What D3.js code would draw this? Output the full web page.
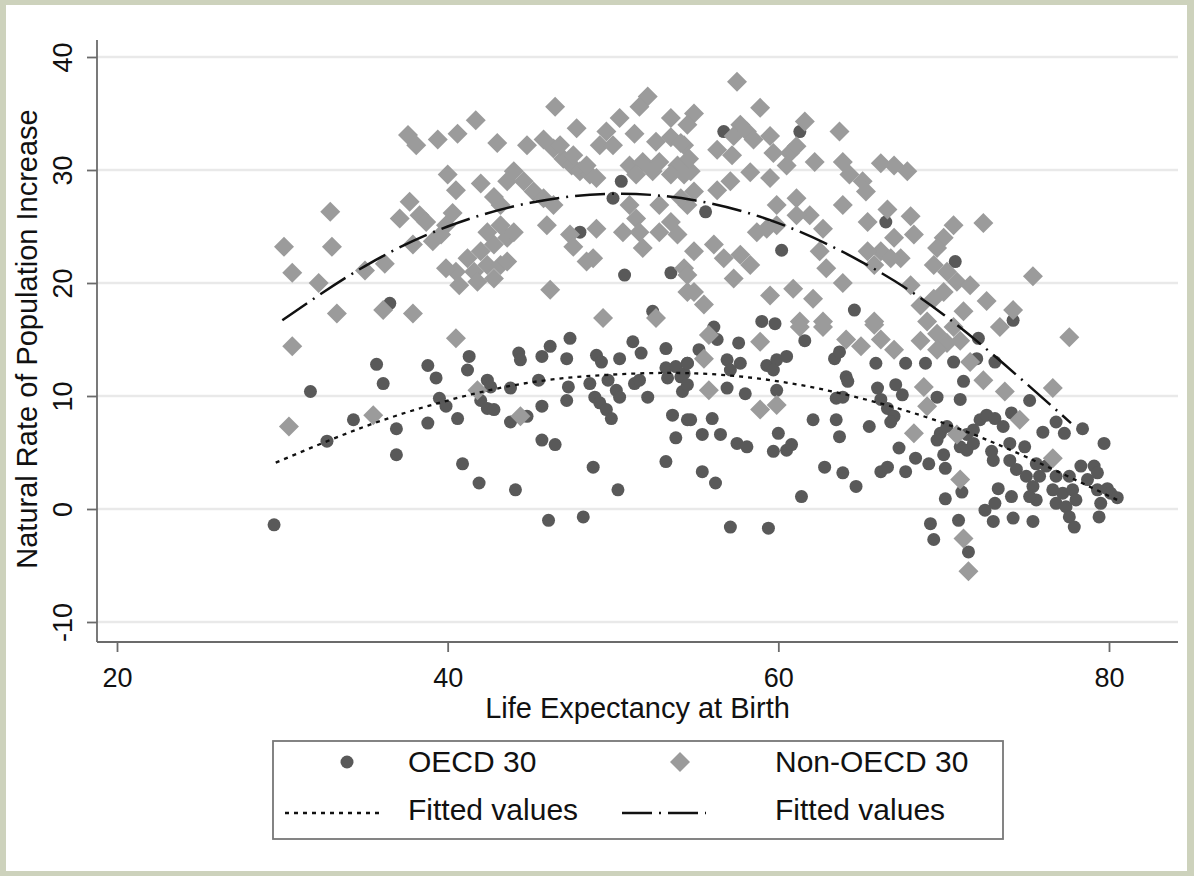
<!DOCTYPE html>
<html>
<head>
<meta charset="utf-8">
<script src="https://cdn.jsdelivr.net/npm/d3@7"></script>
<style>
  html, body { margin: 0; padding: 0; background: #cdd2bc; }
  svg { display: block; }
  text { font-family: "Liberation Sans", Arial, sans-serif; fill: #111; }
</style>
</head>
<body>
<div id="container"></div>
<script>
/* DATA */
const xTicks = [20, 40, 60, 80];
const yTicks = [-10, 0, 10, 20, 30, 40];

// OECD 30 : [life expectancy, natural rate]
const oecd = [
  [36.5,18.2],[48.0,24.5],[50.0,27.5],[50.5,29.0],[52.4,17.5],[50.7,20.7],[53.5,20.9],
  [56.7,33.4],[61.3,33.4],[66.5,25.4],[70.7,21.9],[74.2,16.7],[55.6,26.3],[60.2,22.9],
  [64.6,17.6],[59.0,16.6],[59.8,16.4],[56.1,16.1],
  [29.5,-1.4],[31.7,10.4],[32.7,6.0],[34.3,7.9],[35.7,12.8],[36.1,11.1],[36.9,7.1],[36.9,4.8],
  [38.8,7.6],[38.8,12.7],[39.3,11.6],[41.3,13.5],[41.2,12.3],[39.5,9.8],[39.9,9.1],[40.6,8.0],
  [40.9,4.0],[41.9,2.3],[42.4,11.4],[42.6,10.8],[42.0,9.6],[42.4,8.9],[42.8,8.8],[43.8,10.7],
  [44.1,1.7],[44.3,13.8],[44.4,13.2],[43.8,7.7],[44.8,8.2],[45.7,13.5],[46.2,14.4],[45.5,11.4],
  [45.7,9.1],[45.7,6.1],[46.5,5.7],[46.1,-1.0],[47.4,15.1],[47.2,13.3],[47.3,10.8],[47.2,9.6],
  [48.2,-0.7],[48.8,3.7],[49.0,13.6],[49.3,13.0],[48.6,11.1],[48.9,9.9],[49.2,9.4],[49.6,8.8],
  [49.9,8.0],[49.7,11.4],[50.2,10.5],[50.4,9.9],[50.4,13.3],[50.3,1.7],[51.2,14.8],[51.7,13.8],
  [51.3,11.1],[51.6,11.4],[52.1,9.9],[53.2,14.2],[53.2,12.5],[53.8,12.6],[53.3,11.6],[54.3,12.0],
  [54.5,12.9],[54.2,10.4],[54.5,7.9],[53.6,8.3],[53.8,6.3],[53.2,4.2],
  [56.3,15.0],[57.6,14.7],[61.6,14.9],[54.5,12.9],[55.2,14.1],[56.9,13.2],[57.7,12.9],[57.1,12.3],
  [54.1,11.7],[54.5,11.0],[56.9,10.7],[58.0,10.2],[59.3,12.7],[59.9,13.2],[60.5,13.5],[59.7,12.3],
  [59.9,10.5],[54.7,7.9],[56.0,8.0],[55.4,6.6],[56.5,6.6],[57.5,5.8],[58.1,5.5],[60.0,6.7],
  [59.7,5.1],[60.5,5.2],[60.8,5.7],[55.4,3.3],[56.2,2.3],[61.4,1.1],[57.1,-1.6],[59.4,-1.7],
  [62.1,7.9],[63.5,7.9],[63.7,6.4],[62.8,3.7],[63.9,3.2],[64.7,2.0],[65.5,7.3],[63.4,13.3],
  [63.7,13.9],[64.1,11.7],[64.2,11.3],[63.5,9.8],[63.9,9.9],[65.9,12.9],[67.7,12.9],[68.9,12.9],
  [66.0,10.7],[66.2,9.7],[67.1,11.0],[67.5,10.1],[66.6,8.9],[67.0,8.2],[66.8,7.7],[66.2,3.3],
  [66.6,3.7],[67.7,3.3],[67.3,5.4],[68.3,4.5],[69.1,4.0],[70.0,4.8],[70.1,3.6],[69.6,9.9],
  [71.0,9.7],[71.2,11.3],[70.6,13.0],[72.0,13.3],[73.1,13.0],[72.1,15.1],[70.1,0.9],[71.1,1.5],
  [69.2,-1.3],[70.9,-1.0],[69.4,-2.7],[71.5,-3.8],[69.8,6.7],[69.6,6.1],[70.2,7.3],[71.0,5.5],
  [71.4,6.6],[71.8,7.0],[72.2,7.9],[72.6,8.3],[73.1,8.0],[73.6,7.3],[71.4,5.2],[71.8,5.8],
  [72.9,5.1],[73.0,4.3],[74.0,5.8],[74.9,5.5],[74.0,4.3],[74.4,3.5],[75.2,9.6],[76.0,6.8],
  [76.8,7.7],[77.3,6.7],[78.4,7.1],[79.7,5.8],[74.1,8.5],[73.3,1.8],[74.1,1.1],[72.5,-0.1],
  [73.1,0.5],[73.0,-1.1],[74.2,-0.8],[75.4,-1.1],[75.0,2.9],[75.4,2.0],[75.6,0.8],[75.2,1.1],
  [75.8,2.9],[75.6,4.0],[76.2,3.8],[76.8,2.9],[77.6,2.9],[78.3,3.8],[79.1,3.8],[79.3,3.2],
  [78.7,2.6],[76.6,1.7],[77.2,1.4],[77.8,1.7],[76.8,0.5],[77.4,0.2],[78.0,0.8],[77.6,-0.7],
  [77.9,-1.6],[79.3,1.7],[79.5,0.5],[79.4,-0.7],[79.9,1.8],[80.1,1.4],[80.5,1.0]
];

// Non-OECD 30
const nonOecd = [
  [46.5,35.6],[52.1,36.5],[51.6,35.6],[41.7,34.4],[40.6,33.2],[39.4,32.7],[37.6,33.1],[38.1,32.2],
  [43.0,32.4],[44.8,32.2],[47.8,33.7],[50.4,34.6],[49.6,33.4],[49.2,32.2],[50.0,32.2],[51.3,33.2],
  [53.5,34.6],[52.6,32.5],[53.5,32.9],[54.3,32.2],
  [45.8,32.7],[46.4,31.9],[47.0,31.0],[47.5,30.4],[48.0,29.9],[48.6,29.6],[49.0,29.3],[46.8,32.2],
  [47.6,31.3],[48.4,30.4],[51.0,30.4],[51.8,30.7],[52.8,30.7],[53.9,30.4],[54.7,29.9],[51.4,29.6],
  [52.4,29.9],[53.5,29.6],[44.0,29.9],[44.6,29.0],[45.2,28.1],[45.8,27.5],[46.4,26.9],[43.6,29.0],
  [40.0,29.6],[40.5,28.2],[42.0,28.8],[42.8,27.6],[43.2,26.9],[37.7,27.2],[38.3,26.0],[37.1,25.7],
  [38.7,25.4],[40.3,26.2],[39.9,25.1],[39.6,24.3],[39.1,23.7],
  [32.9,26.3],[30.1,23.2],[33.0,23.2],[30.6,20.9],[32.2,20.0],[35.0,21.1],[36.2,21.7],[37.9,23.4],
  [33.3,17.3],[36.1,17.6],[37.9,17.3],
  [41.2,22.2],[42.0,22.8],[42.8,23.4],[43.6,24.0],[44.0,24.5],[40.5,21.0],[41.6,21.0],[42.4,21.6],
  [43.2,21.6],[40.7,19.8],[41.8,20.1],[42.8,20.4],[43.6,21.9],[39.9,21.3],[42.4,24.5],[43.2,25.1],
  [46.2,19.4],[46.0,25.1],[47.4,24.3],[47.6,23.2],[48.8,22.2],[48.4,21.9],[49.0,24.8],
  [51.0,26.9],[51.4,25.7],[50.6,24.5],[51.6,24.5],[51.8,23.1],[52.8,26.9],[53.5,25.4],[53.9,24.3],
  [52.8,24.5],[54.5,26.9],[49.4,16.9],[52.6,16.9],[54.3,21.3],[54.5,19.2],
  [57.5,37.8],[54.9,35.0],[58.9,35.5],[61.6,34.3],[63.7,33.4],[57.7,34.0],[57.3,33.0],[58.1,33.4],
  [56.3,31.8],[57.2,31.3],[58.5,32.7],[59.5,33.0],[59.7,31.5],[60.7,31.5],[61.1,32.1],[60.5,30.4],
  [62.2,30.7],[54.5,34.0],[54.1,32.4],[54.6,31.0],[54.3,29.6],
  [58.3,29.8],[59.5,29.3],[57.1,29.0],[56.3,28.2],[54.9,28.1],[54.1,27.5],
  [59.9,26.9],[61.1,27.5],[61.9,26.0],[62.7,24.8],[61.1,26.0],
  [63.9,30.7],[64.3,29.6],[65.1,29.0],[65.3,28.1],[66.2,30.6],[67.0,30.4],[67.8,29.9],
  [63.9,26.9],[66.6,26.5],[65.4,25.4],[67.0,24.0],[68.0,25.9],[68.2,24.3],[66.2,22.8],[67.4,22.2],
  [72.4,25.3],[70.6,25.1],[70.0,24.0],[69.6,23.1],[69.4,21.6],[70.2,21.0],[70.8,20.1],[70.0,19.2],
  [69.4,18.6],[71.6,19.8],[72.6,18.4],[71.2,17.5],[75.4,20.6],[74.2,17.6],
  [54.9,22.8],[56.1,23.4],[56.7,22.2],[57.7,22.5],[58.3,21.6],[57.3,20.4],[58.7,24.5],[59.3,24.8],
  [59.9,25.1],[54.5,20.7],[54.9,19.2],[55.5,18.1],
  [59.5,18.9],[60.9,19.5],[62.1,18.6],[63.9,20.0],[62.7,16.6],[61.3,16.6],
  [62.5,22.8],[62.9,21.3],[65.4,22.8],[65.8,21.6],[66.8,22.2],[68.0,19.8],[68.6,18.0],[65.8,16.6],
  [77.6,15.2],
  [30.6,14.4],[30.4,7.3],[35.5,8.3],[40.5,15.1],[41.8,10.5],[44.4,8.2],
  [55.8,15.4],[58.9,14.8],[61.3,16.1],[62.7,16.1],[55.5,13.3],[55.8,10.5],[58.9,8.8],[59.9,9.2],
  [71.2,-2.6],[71.5,-5.5],
  [68.6,14.9],[69.6,15.5],[70.2,14.7],[71.0,14.9],[70.6,16.1],[69.6,14.1],
  [73.4,16.1],[72.4,11.4],[73.7,10.4],[76.6,10.7],[74.6,7.9],[76.6,4.5],[71.0,2.6],[68.2,6.7],
  [68.8,10.8],[69.0,9.1],[71.6,13.0],[70.8,6.6],
  [64.1,15.0],[65.0,14.4],[66.2,15.0],[67.0,14.1],[65.8,16.3],[69.0,16.6]
];

// fitted values
const fitOecdX = [29.6, 35, 40, 45, 50, 55, 60, 65, 70, 75, 80.5];
const fitOecdY = [4.1, 7.3, 9.6, 11.2, 11.9, 12.0, 11.3, 9.8, 7.6, 4.6, 0.8];
const fitNonX = [30, 35, 40, 45, 50, 55, 60, 65, 70, 75, 77.7];
const fitNonY = [16.7, 21.5, 25.0, 27.1, 27.9, 27.3, 25.3, 21.9, 17.2, 11.1, 7.6];

const legendLabels = ["OECD 30", "Non-OECD 30", "Fitted values", "Fitted values"];

/* CONSTANTS */
const width = 1194, height = 876;
const plot = { left: 97, right: 1178, top: 40, bottom: 642 };

const svg = d3.select("#container")
  .append("svg")
  .attr("width", width)
  .attr("height", height);

svg.append("rect")
  .attr("width", width)
  .attr("height", height)
  .attr("fill", "#cdd2bc");

svg.append("rect")
  .attr("x", 6)
  .attr("y", 5)
  .attr("width", 1181)
  .attr("height", 866)
  .attr("fill", "#ffffff");

// SCALES
const xScale = d3.scaleLinear().domain([20, 80]).range([117, 1109]);
const yScale = d3.scaleLinear().domain([-10, 40]).range([622, 57]);

// GRID
svg.append("g")
  .selectAll("line")
  .data(yTicks)
  .join("line")
  .attr("x1", plot.left)
  .attr("x2", plot.right)
  .attr("y1", d => yScale(d))
  .attr("y2", d => yScale(d))
  .attr("stroke", "#e9e9e9")
  .attr("stroke-width", 2.5);

// AXES (plain hyphen for negatives, like the original)
const yAxisGroup = svg.append("g")
  .attr("transform", `translate(${plot.left}, 0)`)
  .call(d3.axisLeft(yScale).tickValues(yTicks).tickFormat(d => String(d)).tickSize(10).tickSizeOuter(0));
yAxisGroup.select(".domain").remove();
yAxisGroup.selectAll(".tick line").attr("stroke", "#6b6b6b").attr("stroke-width", 1.8);
yAxisGroup.selectAll(".tick text")
  .attr("transform", "rotate(-90)")
  .attr("x", 0)
  .attr("y", -25)
  .attr("dy", 0)
  .attr("text-anchor", "middle")
  .attr("font-size", 27)
  .attr("fill", "#111");

const xAxisGroup = svg.append("g")
  .attr("transform", `translate(0, ${plot.bottom})`)
  .call(d3.axisBottom(xScale).tickValues(xTicks).tickFormat(d => String(d)).tickSize(10).tickSizeOuter(0));
xAxisGroup.select(".domain").remove();
xAxisGroup.selectAll(".tick line").attr("stroke", "#6b6b6b").attr("stroke-width", 1.8);
xAxisGroup.selectAll(".tick text")
  .attr("y", 45)
  .attr("dy", 0)
  .attr("font-size", 27)
  .attr("fill", "#111");
svg.selectAll("g").attr("font-family", null);

svg.append("line")
  .attr("x1", plot.left).attr("x2", plot.left)
  .attr("y1", plot.top).attr("y2", plot.bottom)
  .attr("stroke", "#6b6b6b").attr("stroke-width", 1.8);
svg.append("line")
  .attr("x1", plot.left).attr("x2", plot.right)
  .attr("y1", plot.bottom).attr("y2", plot.bottom)
  .attr("stroke", "#6b6b6b").attr("stroke-width", 1.8);

// AXIS TITLES
svg.append("text")
  .attr("transform", "translate(37, 339) rotate(-90)")
  .attr("text-anchor", "middle")
  .attr("font-size", 29)
  .text("Natural Rate of Population Increase");

svg.append("text")
  .attr("x", (plot.left + plot.right) / 2)
  .attr("y", 718)
  .attr("text-anchor", "middle")
  .attr("font-size", 29)
  .text("Life Expectancy at Birth");

// MARKERS
const diamond = d3.symbol().type(d3.symbolSquare).size(200);

svg.append("g")
  .selectAll("circle")
  .data(oecd)
  .join("circle")
  .attr("cx", d => xScale(d[0]))
  .attr("cy", d => yScale(d[1]))
  .attr("r", 6.5)
  .attr("fill", "#595959");

svg.append("g")
  .selectAll("path")
  .data(nonOecd)
  .join("path")
  .attr("d", diamond)
  .attr("transform", d => `translate(${xScale(d[0])}, ${yScale(d[1])}) rotate(45)`)
  .attr("fill", "#9b9b9b");

// FITTED LINES
const fitLine = d3.line()
  .x(d => xScale(d[0]))
  .y(d => yScale(d[1]))
  .curve(d3.curveNatural);

svg.append("path")
  .datum(d3.zip(fitOecdX, fitOecdY))
  .attr("d", fitLine)
  .attr("fill", "none")
  .attr("stroke", "#111")
  .attr("stroke-width", 2.3)
  .attr("stroke-dasharray", "4,5");

svg.append("path")
  .datum(d3.zip(fitNonX, fitNonY))
  .attr("d", fitLine)
  .attr("fill", "none")
  .attr("stroke", "#111")
  .attr("stroke-width", 2.5)
  .attr("stroke-dasharray", "30,7,2,7");

// LEGEND
const legend = svg.append("g");
legend.append("rect")
  .attr("x", 273).attr("y", 741)
  .attr("width", 730).attr("height", 98)
  .attr("fill", "#fff")
  .attr("stroke", "#777")
  .attr("stroke-width", 1.8);

legend.append("circle")
  .attr("cx", 347).attr("cy", 762).attr("r", 6.5)
  .attr("fill", "#595959");
legend.append("path")
  .attr("d", diamond)
  .attr("transform", "translate(680, 762) rotate(45)")
  .attr("fill", "#9b9b9b");
legend.append("line")
  .attr("x1", 285).attr("x2", 383).attr("y1", 813).attr("y2", 813)
  .attr("stroke", "#111").attr("stroke-width", 2.3).attr("stroke-dasharray", "4,5");
legend.append("line")
  .attr("x1", 622).attr("x2", 706).attr("y1", 813).attr("y2", 813)
  .attr("stroke", "#111").attr("stroke-width", 2.5).attr("stroke-dasharray", "30,7,2,7");

const legendPos = [[408, 772], [775, 772], [408, 820], [775, 820]];
legend.selectAll("text")
  .data(legendLabels)
  .join("text")
  .attr("x", (d, i) => legendPos[i][0])
  .attr("y", (d, i) => legendPos[i][1])
  .attr("font-size", 30)
  .text(d => d);
</script>
</body>
</html>
